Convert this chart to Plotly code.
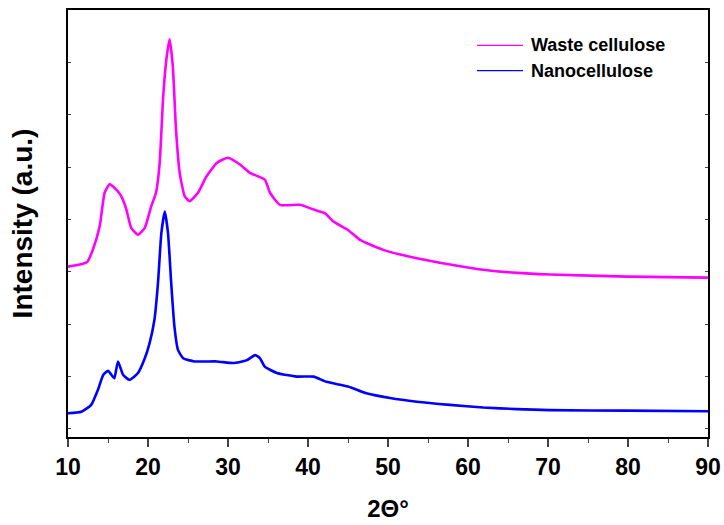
import plotly.graph_objects as go

# Waste cellulose (magenta)
waste_2theta = [10, 11.5, 12.4, 13.1, 13.96, 14.58, 15.2, 16.04, 16.67, 17.3, 17.9, 18.75,
                19.6, 20.4, 21.0, 21.46, 21.9, 22.3, 22.7, 23.1, 23.5, 23.96, 24.6, 25.2,
                26.25, 27.3, 28.6, 30.0, 31.5, 32.75, 34.6, 35.25, 36.5, 39, 40.7, 42.1,
                43.2, 45, 46.5, 49.4, 53.6, 57.75, 61.9, 66.1, 70.25, 80, 90]
waste_int = [3.10, 3.14, 3.19, 3.42, 3.87, 4.51, 4.67, 4.57, 4.44, 4.19, 3.84, 3.71,
             3.84, 4.25, 4.51, 5.08, 6.35, 7.06, 7.44, 6.93, 5.72, 4.89, 4.44, 4.35,
             4.51, 4.82, 5.08, 5.18, 5.05, 4.89, 4.76, 4.51, 4.28, 4.28, 4.19, 4.12,
             3.96, 3.80, 3.61, 3.42, 3.26, 3.14, 3.04, 2.98, 2.95, 2.91, 2.89]

# Nanocellulose (blue)
nano_2theta = [10, 11.67, 12.9, 13.75, 14.4, 15.0, 15.6, 15.8, 16.25, 16.9, 17.7, 18.75,
               19.6, 20.2, 20.8, 21.25, 21.67, 22.1, 22.5, 22.9, 23.3, 23.75, 24.4, 25.8,
               28.6, 30.7, 32.3, 33.4, 34.0, 34.6, 36.1, 38.6, 40.7, 42.3, 45, 47.3,
               50.25, 53.6, 57.75, 61.9, 66.1, 70.25, 80, 90]
nano_int = [0.30, 0.33, 0.46, 0.75, 1.03, 1.11, 1.00, 0.97, 1.29, 1.03, 0.94, 1.07,
            1.35, 1.64, 2.08, 2.79, 3.74, 4.15, 3.74, 2.79, 1.96, 1.51, 1.35, 1.29,
            1.29, 1.26, 1.31, 1.41, 1.35, 1.19, 1.07, 1.00, 1.00, 0.90, 0.81, 0.68,
            0.59, 0.52, 0.46, 0.41, 0.38, 0.36, 0.35, 0.34]

series_names = ["Waste cellulose", "Nanocellulose"]
series_colors = ["#ff00ff", "#0000ff"]
x_ticks = [10, 20, 30, 40, 50, 60, 70, 80, 90]

FONT = "Arial, Liberation Sans, sans-serif"

fig = go.Figure()
for xs, ys, name, color in [(waste_2theta, waste_int, series_names[0], series_colors[0]),
                            (nano_2theta, nano_int, series_names[1], series_colors[1])]:
    fig.add_trace(go.Scatter(x=xs, y=ys, mode="lines", name=name,
                             line=dict(color=color, width=2.6, shape="spline", smoothing=0.5)))

# Custom legend (paper coordinates) to mimic the original's long legend lines
legend_rows_y = [0.917, 0.858]
for name, color, ly in zip(series_names, series_colors, legend_rows_y):
    fig.add_shape(type="line", xref="paper", yref="paper",
                  x0=0.639, x1=0.711, y0=ly, y1=ly,
                  line=dict(color=color, width=1.3))
    fig.add_annotation(xref="paper", yref="paper", x=0.72, y=ly,
                       xanchor="left", yanchor="middle", showarrow=False,
                       text=f"<b>{name}</b>", font=dict(size=18, family=FONT, color="black"))

fig.update_layout(
    width=724, height=525,
    margin=dict(l=68, r=16, t=10, b=88),
    plot_bgcolor="white", paper_bgcolor="white",
    font=dict(family=FONT, color="black"),
    showlegend=False,
    xaxis=dict(range=[10, 90], tickvals=x_ticks, ticks="outside", ticklen=8,
               tickwidth=1.5, showline=True, linewidth=2, linecolor="black",
               mirror=True, showgrid=False, zeroline=False, automargin=False,
               tickfont=dict(size=23, family=FONT, weight="bold"),
               minor=dict(dtick=5, tick0=5, ticks="outside", ticklen=4, tickwidth=1.2),
               title=dict(text="<b>2Θ°</b>", font=dict(size=24, family=FONT), standoff=22)),
    yaxis=dict(range=[-0.153, 8.0], tick0=0, dtick=1, ticks="inside", ticklen=3,
               tickwidth=1, showticklabels=False, showline=True, linewidth=2,
               linecolor="black", mirror="ticks", showgrid=False, zeroline=False,
               automargin=False,
               title=dict(text="<b>Intensity (a.u.)</b>", font=dict(size=28, family=FONT),
                          standoff=25)),
)

fig.write_html("out.html", config={"displayModeBar": False},
               post_script="document.body.style.margin='0px';document.body.style.overflow='hidden';")
